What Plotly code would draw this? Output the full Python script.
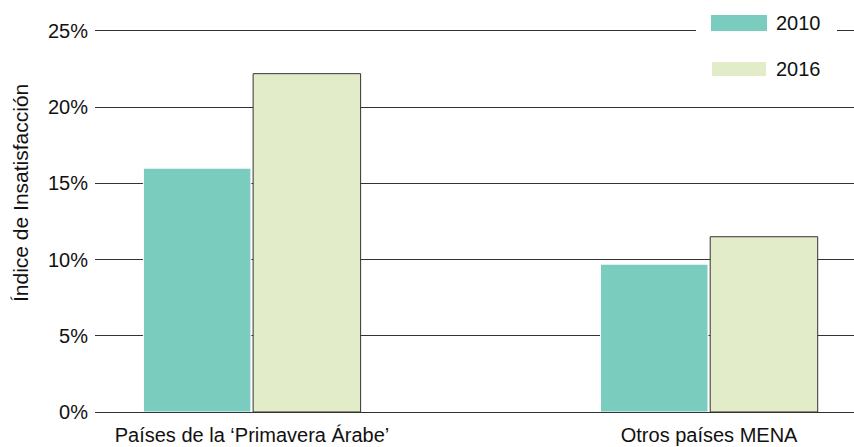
import plotly.graph_objects as go

categories = ["Países de la ‘Primavera Árabe’", "Otros países MENA"]
years = ["2010", "2016"]
values_2010 = [0.160, 0.097]
values_2016 = [0.222, 0.115]
y_ticks = [0, 0.05, 0.10, 0.15, 0.20, 0.25]
y_tick_labels = ["0%", "5%", "10%", "15%", "20%", "25%"]
y_title = "Índice de Insatisfacción"

colors = {"2010": "#7ACCBE", "2016": "#E2ECC8"}
edge = {"2010": "#FFFFFF", "2016": "#333333"}

W, H = 854, 447
L, R, T, B = 95, 0, 31, 35
pw, ph = W - L - R, H - T - B

def px(x):
    return (x - L) / pw

def py(y):
    return (H - B - y) / ph

fig = go.Figure()
for yr, vals in zip(years, [values_2010, values_2016]):
    fig.add_trace(go.Bar(
        x=categories, y=vals, name=yr,
        marker=dict(color=colors[yr], line=dict(color=edge[yr], width=1)),
        showlegend=False,
    ))

font = "Liberation Sans, Arial, Helvetica, sans-serif"

shapes = [
    dict(type="rect", xref="paper", yref="paper", x0=px(696), x1=px(837), y0=py(38), y1=py(24),
         fillcolor="white", line=dict(width=0), layer="above"),
]
annotations = [
    dict(text=y_title, xref="paper", yref="paper", x=px(20), y=py(193), textangle=-90,
         xanchor="center", yanchor="middle", showarrow=False,
         font=dict(size=21, color="#111", family=font)),
]
legend_pos = [(711, 767, 15, 31, 23), (712, 766, 62, 76, 69)]
for yr, (x0, x1, y0, y1, yc) in zip(years, legend_pos):
    shapes.append(dict(type="rect", xref="paper", yref="paper", x0=px(x0), x1=px(x1),
                       y0=py(y1), y1=py(y0), fillcolor=colors[yr], line=dict(width=0), layer="above"))
    annotations.append(dict(text=yr, xref="paper", yref="paper", x=px(774), y=py(yc),
                            xanchor="left", yanchor="middle", showarrow=False,
                            font=dict(size=20, color="#111", family=font)))

fig.update_layout(
    width=W, height=H,
    margin=dict(l=L, r=R, t=T, b=B, pad=0),
    paper_bgcolor="white", plot_bgcolor="white",
    barmode="group", bargap=0.52, bargroupgap=0.02,
    font=dict(family=font, size=20, color="#111"),
    shapes=shapes, annotations=annotations,
    xaxis=dict(type="category", range=[-0.3435, 1.317], showgrid=False,
               showline=True, mirror=True, linecolor="#333", linewidth=1.2,
               ticks="outside", ticklen=5, tickcolor="rgba(0,0,0,0)",
               tickfont=dict(size=20)),
    yaxis=dict(range=[0, 0.25], tickvals=y_ticks, ticktext=y_tick_labels,
               showgrid=True, gridcolor="#333", gridwidth=1.2, zeroline=False, showline=False,
               ticks="outside", ticklen=2, tickcolor="rgba(0,0,0,0)",
               tickfont=dict(size=20)),
)

fig.write_html("out.html")
